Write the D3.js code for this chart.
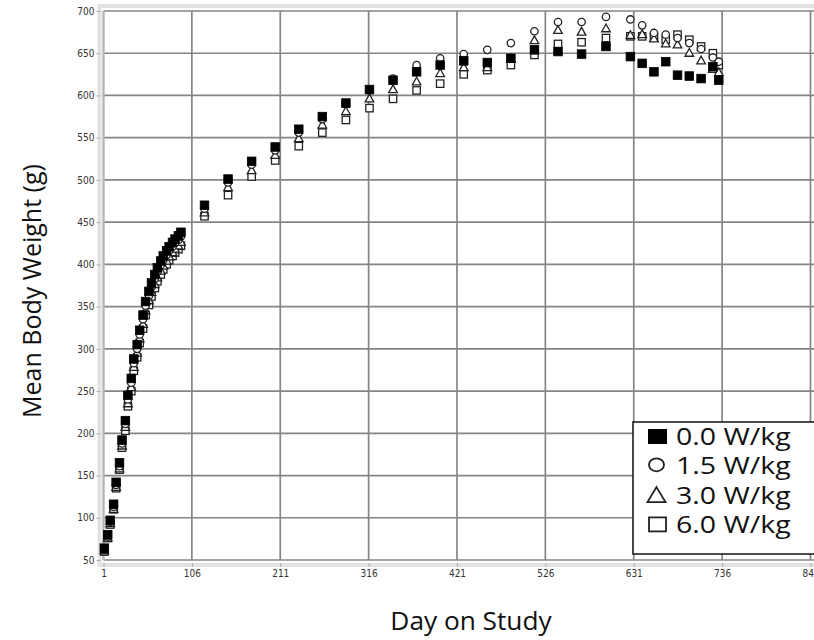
<!DOCTYPE html>
<html>
<head>
<meta charset="utf-8">
<script src="https://cdn.jsdelivr.net/npm/d3@7"></script>
<style>
  html, body { margin: 0; padding: 0; background: #fff; }
  svg { display: block; }
</style>
</head>
<body>
<svg id="chart" width="814" height="640"></svg>
<script>
// ---- data ----
const days = [2,6,9,13,16,20,23,27,30,34,37,41,44,48,51,55,58,62,65,69,72,76,79,83,86,90,93,
  121,149,177,205,233,261,289,317,345,373,401,429,457,485,513,541,569,598,627,
  641,655,669,683,697,711,725,732];
const w00 = [64,80,97,116,142,165,192,215,245,265,288,305,322,340,356,368,378,388,396,404,410,416,421,426,430,434,438,
  470,501,522,539,560,575,591,607,618,628,636,641,639,644,654,652,649,658,646,
  638,628,640,624,623,620,634,618];
const w15 = [63,78,95,113,139,161,188,211,240,260,283,300,317,335,351,363,373,383,391,399,405,411,416,421,425,429,433,
  466,497,518,535,556,572,590,606,620,636,644,649,654,662,676,687,687,693,690,
  683,674,672,668,662,655,645,640];
const w30 = [62,77,94,111,137,159,186,208,236,255,279,296,313,330,346,358,368,377,385,393,399,405,410,415,419,423,427,
  462,492,512,530,550,566,582,597,608,617,627,634,634,644,666,678,676,680,672,
  673,668,662,661,651,642,632,628];
const w60 = [60,76,92,110,135,157,183,203,232,250,274,290,307,324,340,352,362,372,380,388,394,400,405,410,414,418,422,
  457,482,504,523,540,556,571,585,596,606,614,625,630,636,648,661,663,668,670,
  670,669,666,672,666,658,650,636];
const xTicks = [1,106,211,316,421,526,631,736,841];
const yTicks = [50,100,150,200,250,300,350,400,450,500,550,600,650,700];
const seriesNames = ["0.0 W/kg","1.5 W/kg","3.0 W/kg","6.0 W/kg"];
const seriesShapes = ["fsquare","circle","triangle","square"];

// ---- drawing ----
(function () {
const svg = d3.select("#chart");
const x = d3.scaleLinear().domain([1, 841]).range([103.5, 810.5]);
const y = d3.scaleLinear().domain([50, 700]).range([560, 11]);
const pL = x(1), pR = 830, pT = y(700), pB = y(50);

// outer light frame
svg.append("rect").attr("x", pL - 4).attr("y", pT - 5).attr("width", pR - pL + 10).attr("height", pB - pT + 10)
  .attr("fill", "none").attr("stroke", "#e2e2e2").attr("stroke-width", 4);

// gridlines
svg.append("g").selectAll("line").data(yTicks).join("line")
  .attr("x1", pL).attr("x2", pR).attr("y1", d => y(d)).attr("y2", d => y(d))
  .attr("stroke", "#858585").attr("stroke-width", 1.7);
svg.append("g").selectAll("line").data(xTicks).join("line")
  .attr("y1", pT).attr("y2", pB).attr("x1", d => x(d)).attr("x2", d => x(d))
  .attr("stroke", d => d === 1 ? "#b5b5b5" : "#858585").attr("stroke-width", d => d === 1 ? 2.4 : 1.7);

// axes (labels only)
const yAxis = d3.axisLeft(y).tickValues(yTicks).tickSize(4).tickPadding(2);
const gy = svg.append("g").attr("transform", `translate(${pL - 3},0)`).call(yAxis);
gy.select(".domain").remove();
gy.selectAll(".tick line").attr("stroke", "#aaa");
gy.selectAll("text").attr("font-family", "'Liberation Sans Narrow','DejaVu Sans Condensed',sans-serif")
  .attr("font-size", 10).attr("fill", "#333");

const xAxis = d3.axisBottom(x).tickValues(xTicks).tickSize(4).tickPadding(3);
const gx = svg.append("g").attr("transform", `translate(0,${pB + 3})`).call(xAxis);
gx.select(".domain").remove();
gx.selectAll(".tick line").attr("stroke", "#aaa");
gx.selectAll("text").attr("font-family", "'Liberation Sans Narrow','DejaVu Sans Condensed',sans-serif")
  .attr("font-size", 10).attr("fill", "#333");

// markers
function drawMarker(g, shape, cx, cy, s) {
  if (shape === "fsquare") {
    g.append("rect").attr("x", cx - s/2).attr("y", cy - s/2).attr("width", s).attr("height", s)
      .attr("fill", "#000").attr("stroke", "#000").attr("stroke-width", 0.8);
  } else if (shape === "square") {
    g.append("rect").attr("x", cx - s/2 + 0.6).attr("y", cy - s/2 + 0.6).attr("width", s - 1.2).attr("height", s - 1.2)
      .attr("fill", "#fff").attr("stroke", "#222").attr("stroke-width", 1.3);
  } else if (shape === "circle") {
    g.append("circle").attr("cx", cx).attr("cy", cy).attr("r", s/2 - 0.6)
      .attr("fill", "#fff").attr("stroke", "#222").attr("stroke-width", 1.3);
  } else {
    const h = s * 0.9;
    g.append("path").attr("d", `M${cx},${cy - h/2} L${cx + s/2},${cy + h/2} L${cx - s/2},${cy + h/2} Z`)
      .attr("fill", "#fff").attr("stroke", "#222").attr("stroke-width", 1.3);
  }
}
const plot = svg.append("g");
const allSeries = [w00, w15, w30, w60];
// draw order: 6.0, 3.0, 1.5, then 0.0 on top
[3, 2, 1, 0].forEach(si => {
  const g = plot.append("g");
  allSeries[si].forEach((v, i) => drawMarker(g, seriesShapes[si], x(days[i]), y(v), si === 0 ? 8.6 : 8.6));
});

// legend
const lg = svg.append("g");
lg.append("rect").attr("x", 633).attr("y", 422).attr("width", 200).attr("height", 132)
  .attr("fill", "#fff").attr("stroke", "#111").attr("stroke-width", 1.5);
seriesNames.forEach((name, i) => {
  const base = 445 + i * 29.3;
  const cy = base - 8.5;
  const shape = seriesShapes[i];
  if (shape === "fsquare") {
    lg.append("rect").attr("x", 648).attr("y", cy - 7.5).attr("width", 19).attr("height", 15).attr("fill", "#000");
  } else if (shape === "square") {
    lg.append("rect").attr("x", 649).attr("y", cy - 7).attr("width", 17).attr("height", 14)
      .attr("fill", "#fff").attr("stroke", "#222").attr("stroke-width", 1.8);
  } else if (shape === "circle") {
    lg.append("ellipse").attr("cx", 656.5).attr("cy", cy - 1).attr("rx", 7.5).attr("ry", 6.5)
      .attr("fill", "#fff").attr("stroke", "#222").attr("stroke-width", 1.8);
  } else {
    lg.append("path").attr("d", `M656.5,${cy - 8} L665.5,${cy + 7} L647.5,${cy + 7} Z`)
      .attr("fill", "#fff").attr("stroke", "#222").attr("stroke-width", 1.8);
  }
  lg.append("text").attr("transform", `translate(676,${base}) scale(1.24,1)`)
    .attr("font-family", "'Open Sans',sans-serif").attr("font-size", 23).attr("fill", "#111")
    .text(name);
});

// axis titles
svg.append("text").attr("transform", `translate(471,630) scale(1.05,1)`).attr("text-anchor", "middle")
  .attr("font-family", "'Open Sans',sans-serif").attr("font-size", 25).attr("fill", "#111")
  .text("Day on Study");
svg.append("text").attr("transform", `translate(41,291) rotate(-90)`).attr("text-anchor", "middle")
  .attr("font-family", "'Open Sans',sans-serif").attr("font-size", 25).attr("fill", "#111")
  .text("Mean Body Weight (g)");
})();
</script>
</body>
</html>
